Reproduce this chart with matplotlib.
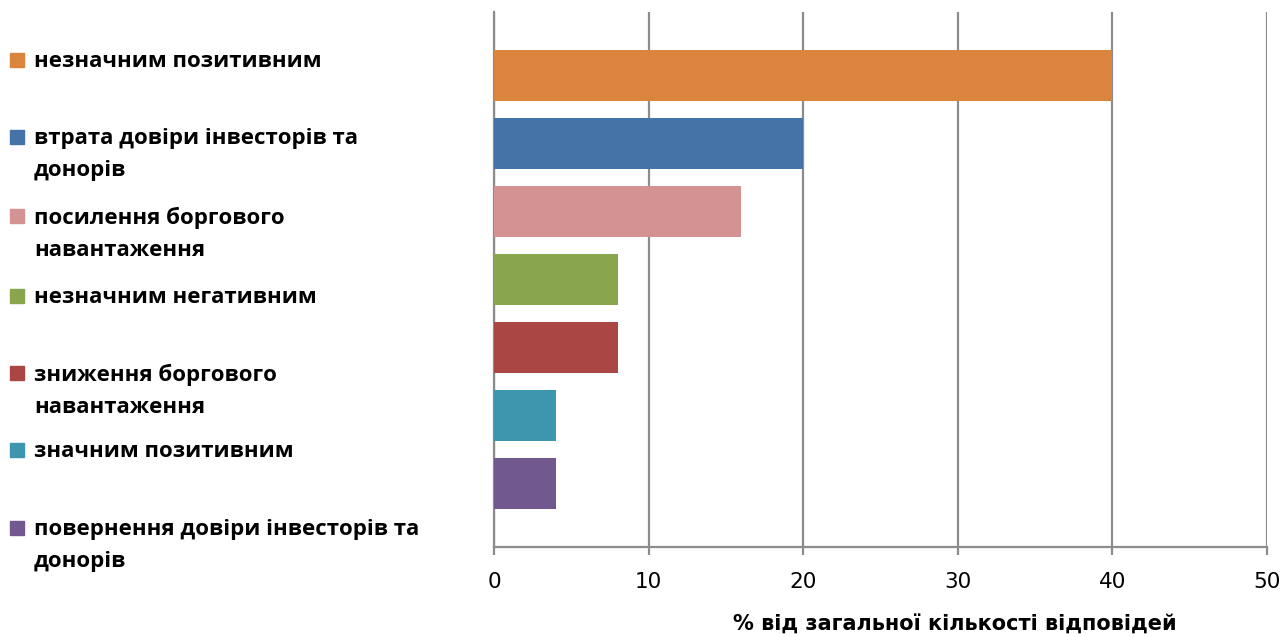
import matplotlib.pyplot as plt

labels = ['незначним позитивним',
          'втрата довіри інвесторів та\nдонорів',
          'посилення боргового\nнавантаження',
          'незначним негативним',
          'зниження боргового\nнавантаження',
          'значним позитивним',
          'повернення довіри інвесторів та\nдонорів']
values = [40, 20, 16, 8, 8, 4, 4]
colors = ['#DB843D', '#4572A7', '#D49392', '#89A54E', '#AA4643', '#3D96AE', '#71588F']
xticks = [0, 10, 20, 30, 40, 50]
xlabel = '% від загальної кількості відповідей'

# legend rows (figure pixels from top) - layout only
legend_y = [60, 137, 216, 296, 373, 450, 528]

W, H = 1284, 637
fig = plt.figure(figsize=(W / 100, H / 100), dpi=100)
ax = fig.add_axes([494 / W, 1 - 547 / H, (1267 - 494) / W, (547 - 12) / H])

pos = list(range(len(values)))
ax.barh(pos, values, height=51 / 68, color=colors, zorder=3)
ax.set_ylim(6 + 64 / 68, -63 / 68)
ax.set_xlim(0, 50)
ax.set_xticks(xticks)
ax.set_yticks([])
ax.grid(axis='x', color='#8c8c8c', linewidth=1.6, zorder=0)
for s in ['top', 'right']:
    ax.spines[s].set_visible(False)
for s in ['left', 'bottom']:
    ax.spines[s].set_color('#8c8c8c')
    ax.spines[s].set_linewidth(1.6)
ax.tick_params(axis='x', length=6, width=1.6, color='#8c8c8c', pad=12,
               labelsize=15.5)

fig.text(955 / W, 1 - 625 / H, xlabel, ha='center', va='center', fontsize=15,
         fontweight='bold')

for lab, c, y in zip(labels, colors, legend_y):
    fig.patches.append(plt.Rectangle((10 / W, 1 - (y + 7) / H), 14 / W, 14 / H,
                                     transform=fig.transFigure, color=c))
    fig.text(34 / W, 1 - (y - 9) / H, lab, ha='left', va='top', fontsize=16,
             fontweight='bold', family=['Open Sans', 'DejaVu Sans'],
             linespacing=1.7)

fig.savefig('out.png', dpi=100)
